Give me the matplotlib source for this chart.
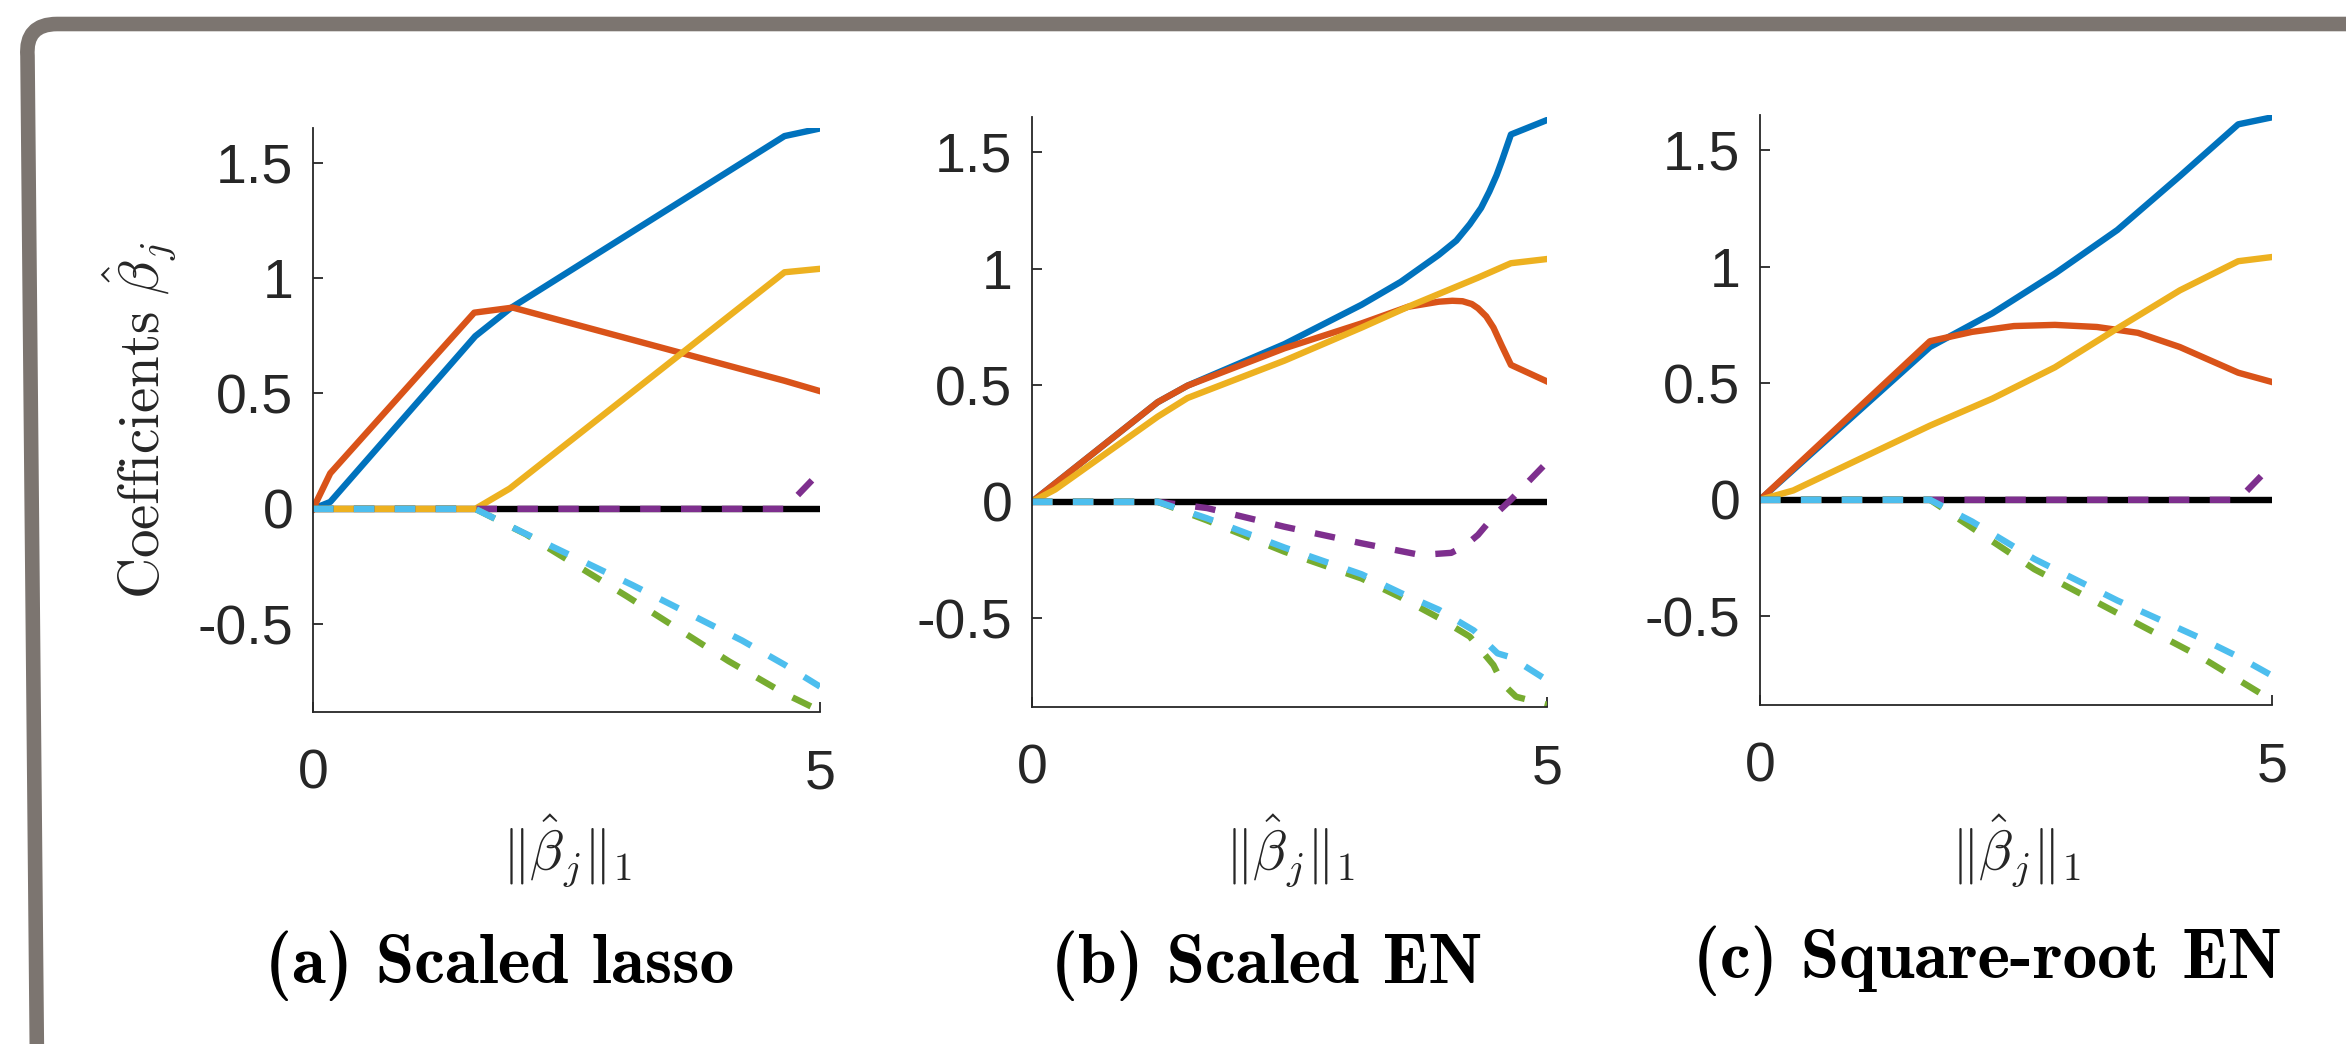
import numpy as np
import matplotlib
matplotlib.use('Agg')
import matplotlib.pyplot as plt
from matplotlib.path import Path
from matplotlib.patches import PathPatch

plt.rcParams['mathtext.fontset'] = 'cm'
plt.rcParams['axes.unicode_minus'] = False
plt.rcParams['font.family'] = ['Liberation Sans', 'DejaVu Sans']

#---------------------------------------------------------
# Dados (caminhos dos coeficientes)
#---------------------------------------------------------

# (a) Scaled lasso
a_x1 = [0, 0.17, 1.6, 1.95, 4.65, 5]
a_y1 = [0, 0.03, 0.748, 0.87, 1.615, 1.648]
a_x2 = [0, 0.17, 1.59, 1.97, 4.65, 5]
a_y2 = [0, 0.154, 0.85, 0.872, 0.555, 0.51]
a_x3 = [0, 1.6, 1.94, 4.65, 5]
a_y3 = [0, 0, 0.088, 1.025, 1.04]
a_x4 = [0, 4.65, 5]
a_y4 = [0, 0, 0.16]
a_x5 = [0, 1.6, 2.1, 3.1, 4.1, 4.65, 5]
a_y5 = [0, 0, -0.11, -0.38, -0.66, -0.8, -0.875]
a_x6 = [0, 1.6, 2.06, 3.15, 4.23, 4.65, 5]
a_y6 = [0, 0, -0.1, -0.33, -0.57, -0.675, -0.77]

# (b) Scaled EN
b_x1 = [0, 1.22, 1.51, 2.45, 3.2, 3.58, 3.95, 4.12, 4.25, 4.36, 4.44, 4.51, 4.56, 4.65, 5]
b_y1 = [0, 0.427, 0.498, 0.676, 0.845, 0.943, 1.059, 1.12, 1.19, 1.26, 1.33, 1.40, 1.46, 1.575, 1.637]
b_x2 = [0, 1.22, 1.51, 2.45, 3.2, 3.65, 3.95, 4.08, 4.18, 4.27, 4.33, 4.41, 4.48, 4.56, 4.65, 5]
b_y2 = [0, 0.427, 0.498, 0.658, 0.765, 0.836, 0.858, 0.862, 0.86, 0.848, 0.83, 0.795, 0.747, 0.67, 0.587, 0.516]
b_x3 = [0, 0.226, 1.22, 1.51, 2.45, 3.2, 3.65, 4.33, 4.65, 5]
b_y3 = [0, 0.053, 0.365, 0.445, 0.605, 0.747, 0.836, 0.961, 1.023, 1.041]
b_x4 = [0, 1.22, 1.7, 2.45, 3.2, 3.77, 4.07, 4.2, 4.33, 4.5, 4.65, 5]
b_y4 = [0, 0, -0.027, -0.107, -0.178, -0.228, -0.219, -0.19, -0.142, -0.053, 0.009, 0.169]
b_x5 = [0, 1.22, 1.7, 2.45, 3.2, 3.58, 3.95, 4.25, 4.48, 4.57, 4.7, 5]
b_y5 = [0, 0, -0.08, -0.214, -0.329, -0.41, -0.498, -0.578, -0.70, -0.78, -0.836, -0.87]
b_x6 = [0, 1.22, 1.7, 2.45, 3.2, 3.58, 3.95, 4.29, 4.52, 4.65, 5]
b_y6 = [0, 0, -0.071, -0.196, -0.311, -0.391, -0.463, -0.552, -0.65, -0.667, -0.765]

# (c) Square-root EN
c_x1 = [0, 1.66, 2.27, 2.88, 3.49, 4.1, 4.67, 5]
c_y1 = [0, 0.655, 0.8, 0.97, 1.157, 1.388, 1.61, 1.64]
c_x2 = [0, 1.66, 2.07, 2.48, 2.88, 3.29, 3.69, 4.1, 4.67, 5]
c_y2 = [0, 0.68, 0.72, 0.745, 0.75, 0.741, 0.716, 0.655, 0.545, 0.505]
c_x3 = [0, 0.325, 1.66, 2.27, 2.88, 3.49, 4.1, 4.67, 5]
c_y3 = [0, 0.04, 0.318, 0.434, 0.568, 0.735, 0.898, 1.023, 1.041]
c_x4 = [0, 4.67, 5]
c_y4 = [0, 0, 0.15]
c_x5 = [0, 1.66, 2.07, 2.68, 3.49, 4.3, 5]
c_y5 = [0, 0, -0.12, -0.298, -0.486, -0.673, -0.86]
c_x6 = [0, 1.66, 2.07, 2.68, 3.49, 4.3, 4.67, 5]
c_y6 = [0, 0, -0.093, -0.254, -0.432, -0.593, -0.673, -0.754]

titulos = ['(a) Scaled lasso', '(b) Scaled EN', '(c) Square-root EN']
yticks = [-0.5, 0, 0.5, 1, 1.5]
ytick_labels = ['-0.5', '0', '0.5', '1', '1.5']
xticks = [0, 5]

paineis = [
    [(a_x1, a_y1), (a_x2, a_y2), (a_x3, a_y3), (a_x4, a_y4), (a_x5, a_y5), (a_x6, a_y6)],
    [(b_x1, b_y1), (b_x2, b_y2), (b_x3, b_y3), (b_x4, b_y4), (b_x5, b_y5), (b_x6, b_y6)],
    [(c_x1, c_y1), (c_x2, c_y2), (c_x3, c_y3), (c_x4, c_y4), (c_x5, c_y5), (c_x6, c_y6)],
]

cores = ['#0072BD', '#D95319', '#EDB120', '#7E2F8E', '#77AC30', '#4DBEEE']
estilos = ['-', '-', '-', '--', '--', '--']

#---------------------------------------------------------
# Figura
#---------------------------------------------------------

fig = plt.figure(figsize=(23.46, 10.44), dpi=100)
W, H = 2346, 1044

# posicoes dos eixos em pixels: (esq, topo, dir, base)
caixas = [(313, 128, 820, 712), (1032, 117, 1547, 707), (1760, 115, 2272, 705)]
tit_pos = [(500, 983), (1267, 983), (1988, 978)]

lw = 4.6
cinza = '#262626'

for k in range(3):
    l, t, r, b = caixas[k]
    ax = fig.add_axes([l / W, 1 - b / H, (r - l) / W, (b - t) / H])

    ax.plot([0, 5], [0, 0], color='black', lw=lw)
    for (xs, ys), c, ls in zip(paineis[k], cores, estilos):
        if ls == '--':
            ax.plot(xs, ys, color=c, lw=lw, dashes=(3.2, 3.2))
        else:
            ax.plot(xs, ys, color=c, lw=lw)

    ax.set_xlim(0, 5)
    ax.set_ylim(-0.88, 1.65)
    ax.set_xticks(xticks)
    ax.set_xticklabels(['0', '5'])
    ax.set_yticks(yticks)
    ax.set_yticklabels(ytick_labels)
    ax.spines['top'].set_visible(False)
    ax.spines['right'].set_visible(False)
    for s in ['left', 'bottom']:
        ax.spines[s].set_color(cinza)
        ax.spines[s].set_linewidth(1.3)
    ax.tick_params(axis='both', direction='in', length=7, width=1.3, colors=cinza,
                   labelsize=40)
    ax.tick_params(axis='y', pad=14)
    ax.tick_params(axis='x', pad=26)

    ax.set_xlabel(r'$\|\hat{\beta}_j\|_1$', fontsize=40, color=cinza, va='center')
    ax.xaxis.set_label_coords(0.5, -(850 - b) / (b - t))

    if k == 0:
        ax.set_ylabel(r'$\mathrm{Coefficients}\ \hat{\beta}_j$', fontsize=41,
                      color=cinza, va='center')
        ax.yaxis.set_label_coords((140 - l) / (r - l), 0.5)

    fig.text(tit_pos[k][0] / W, 1 - tit_pos[k][1] / H, titulos[k], family='cmb10',
             fontsize=50, ha='center', va='baseline', color='black')

# moldura cinza arredondada
rr = 32
verts = [(W + 20, 24), (25 + rr, 24), (25, 24), (25 + 2.5, 24 + rr), (37, H + 20)]
codes = [Path.MOVETO, Path.LINETO, Path.CURVE3, Path.CURVE3, Path.LINETO]
verts = [(x / W, 1 - y / H) for x, y in verts]
moldura = PathPatch(Path(verts, codes), facecolor='none', edgecolor='#7c7570',
                    lw=10.5, transform=fig.transFigure, capstyle='butt', joinstyle='round')
fig.patches.append(moldura)

plt.savefig('out.png', dpi=100)
